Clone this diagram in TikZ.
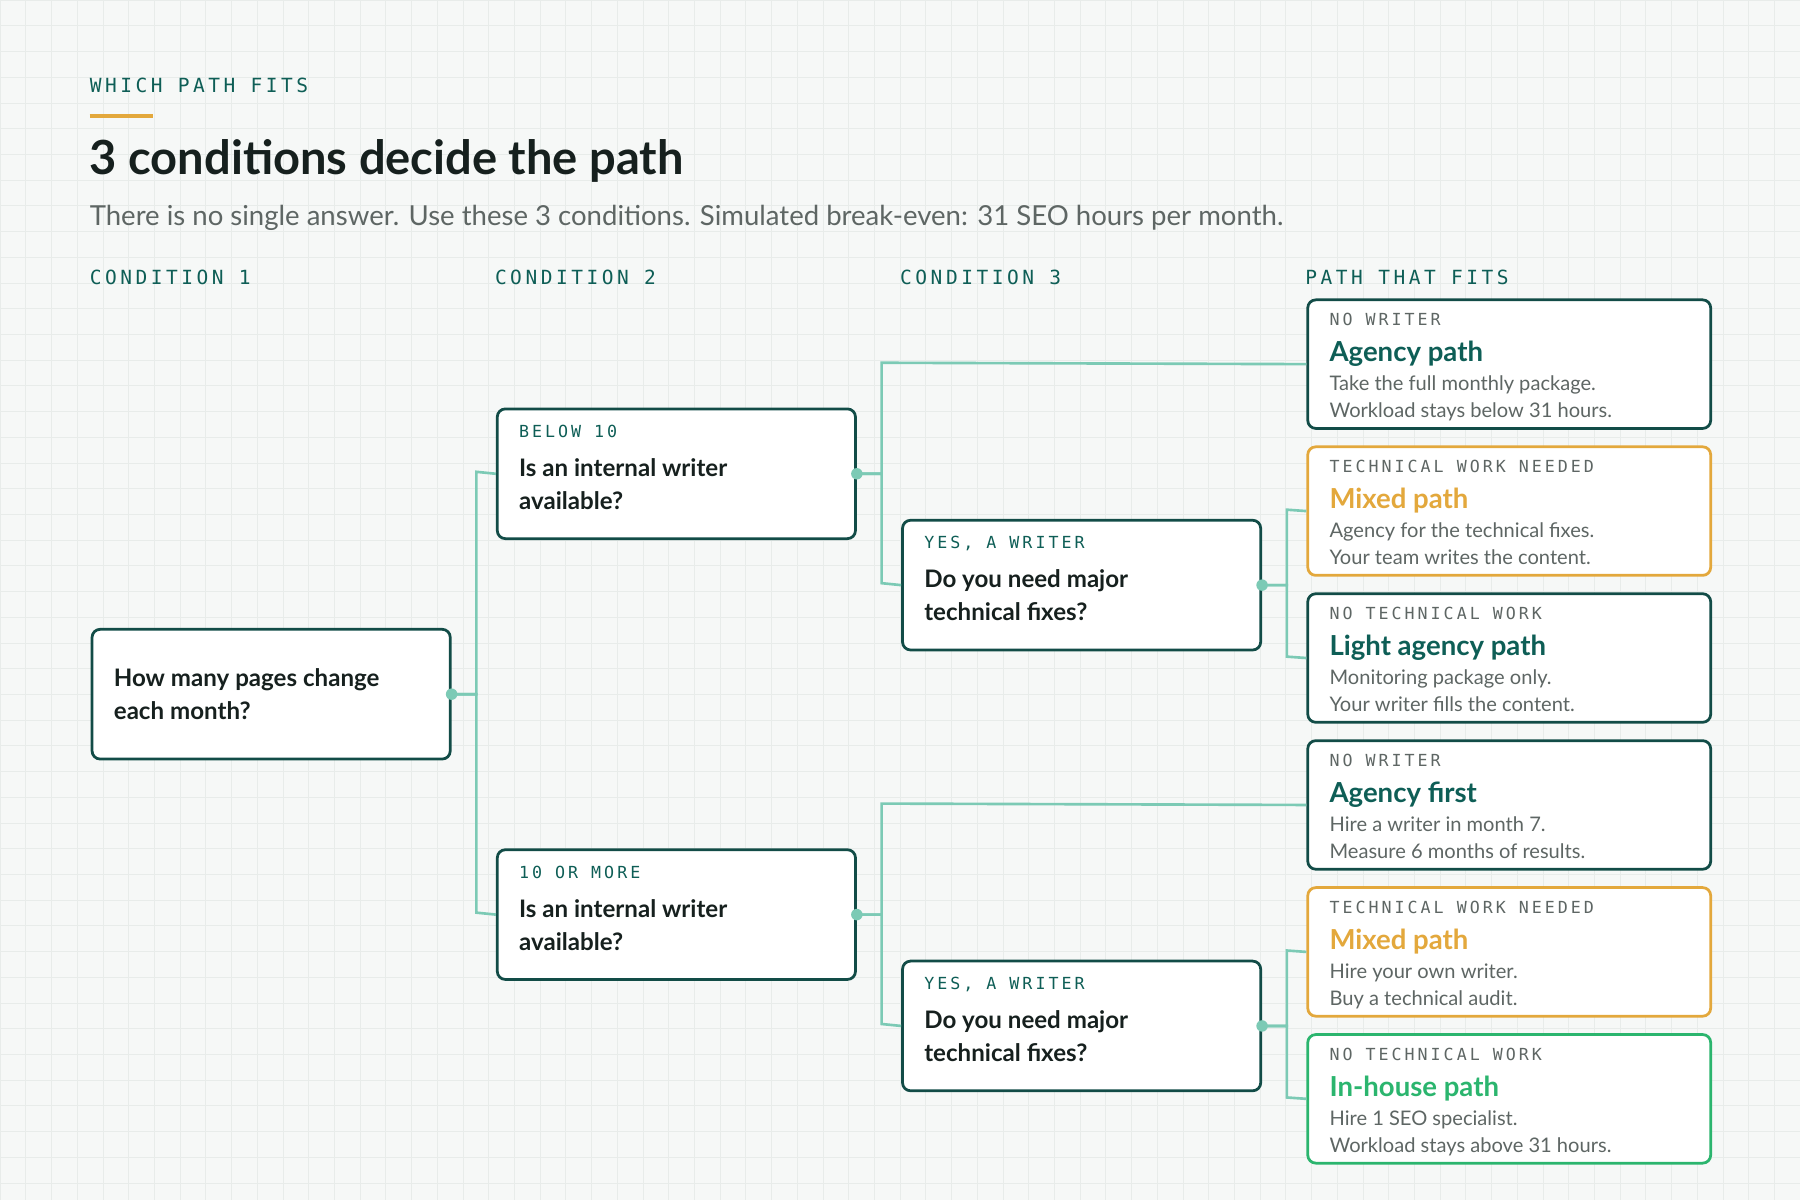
\documentclass[tikz,border=0pt]{standalone}
\usepackage{fontspec}
\setmainfont{Lato}
\newfontfamily\lblfont[LetterSpace=18]{DejaVu Sans Mono}
\usetikzlibrary{positioning}
\definecolor{ink}{HTML}{16201E}
\definecolor{teal}{HTML}{0E5E56}
\definecolor{frame}{HTML}{124C47}
\definecolor{gold}{HTML}{E3A83C}
\definecolor{leaf}{HTML}{2BB56E}
\definecolor{wire}{HTML}{7CCAB5}
\definecolor{grey}{HTML}{5E6664}
\definecolor{paper}{HTML}{F6F8F7}
\definecolor{gridc}{HTML}{E8ECEA}
\tikzset{
  box/.style={draw=frame, line width=2.4pt, fill=white, rounded corners=7pt, anchor=north west, inner sep=0pt},
  qbox/.style={box, minimum width=312pt, minimum height=113pt},
  rbox/.style={box, minimum width=351pt, minimum height=112pt},
  head/.style={anchor=west, inner sep=0pt, text=teal, font=\lblfont\fontsize{17}{17}\selectfont},
  tag/.style={anchor=north west, inner sep=0pt, text=teal, font=\lblfont\fontsize{14.5}{15}\selectfont},
  ask/.style={anchor=north west, inner sep=0pt, align=left, text=ink, font=\fontsize{21}{29}\selectfont\bfseries},
  pathtitle/.style={anchor=north west, inner sep=0pt, font=\fontsize{24}{24}\selectfont\bfseries},
  note/.style={anchor=north west, inner sep=0pt, align=left, text=grey, font=\fontsize{17.5}{23.5}\selectfont},
  link/.style={draw=wire, line width=2.3pt},
  dot/.style={circle, fill=wire, minimum size=10pt, inner sep=0pt}
}
\begin{document}
\begin{tikzpicture}[x=1pt,y=-1pt]
\fill[paper] (0,0) rectangle (1568,1045);
\useasboundingbox (0,0) rectangle (1568,1045);
\draw[gridc, line width=0.6pt] (0,0) grid[step=22.4pt] (1568,1045);
% heading
\node[head] (kicker) at (78,74) {WHICH PATH FITS};
\draw[gold, line width=3pt] (78,101) -- (133,101);
\node[anchor=west, inner sep=0pt, text=ink, font=\fontsize{41}{41}\selectfont\bfseries] (title) at (78,140) {3 conditions decide the path};
\node[anchor=west, inner sep=0pt, text=grey, font=\fontsize{24}{24}\selectfont] (sub) at (78,190) {There is no single answer. Use these 3 conditions. Simulated break-even: 31 SEO hours per month.};
\node[head] (h1) at (78,242) {CONDITION 1};
\node[head] (h2) at (431,242) {CONDITION 2};
\node[head] (h3) at (784,242) {CONDITION 3};
\node[head] (h4) at (1137,242) {PATH THAT FITS};
% question boxes
\node[qbox] (pages) at (79,547) {};
\node[ask] at (99,582) {How many pages change\\each month?};
\foreach \n/\y/\t in {low/354/BELOW 10, high/738/10 OR MORE}{
  \node[qbox] (\n) at (432,\y+1) {};
  \node[tag] at (452,\y+16) {\t};
  \node[ask] at (452,\y+45) {Is an internal writer\\available?};
}
\foreach \n/\y in {tlow/451, thigh/835}{
  \node[qbox] (\n) at (785,\y+1) {};
  \node[tag] at (805,\y+16) {YES, A WRITER};
  \node[ask] at (805,\y+45) {Do you need major\\technical fixes?};
}
% result boxes
\foreach \n/\y/\c/\k/\t/\h/\a/\b in {
  r1/259/frame/teal/NO WRITER/Agency path/Take the full monthly package./Workload stays below 31 hours.,
  r2/387/gold/gold/TECHNICAL WORK NEEDED/Mixed path/Agency for the technical fixes./Your team writes the content.,
  r3/515/frame/teal/NO TECHNICAL WORK/Light agency path/Monitoring package only./Your writer fills the content.,
  r4/643/frame/teal/NO WRITER/Agency first/Hire a writer in month 7./Measure 6 months of results.,
  r5/771/gold/gold/TECHNICAL WORK NEEDED/Mixed path/Hire your own writer./Buy a technical audit.,
  r6/899/leaf/leaf/NO TECHNICAL WORK/In-house path/Hire 1 SEO specialist./Workload stays above 31 hours.}{
  \node[rbox, draw=\c] (\n) at (1138,\y+1) {};
  \node[tag, text=grey] at (1158,\y+14) {\t};
  \node[pathtitle, text=\k] at (1158,\y+38) {\h};
  \node[note] at (1158,\y+68) {\a\\\b};
}
% connectors
\draw[link] (pages.east) -| (415,411) -- (low.west);
\draw[link] (pages.east) -| (415,795) -- (high.west);
\draw[link] (low.east) -| (768,316) -- (r1.west);
\draw[link] (low.east) -| (768,508) -- (tlow.west);
\draw[link] (tlow.east) -| (1121,444) -- (r2.west);
\draw[link] (tlow.east) -| (1121,572) -- (r3.west);
\draw[link] (high.east) -| (768,700) -- (r4.west);
\draw[link] (high.east) -| (768,892) -- (thigh.west);
\draw[link] (thigh.east) -| (1121,828) -- (r5.west);
\draw[link] (thigh.east) -| (1121,956) -- (r6.west);
\foreach \n in {pages, low, high, tlow, thigh}
  \node[dot] at (\n.east) {};
\end{tikzpicture}
\end{document}
